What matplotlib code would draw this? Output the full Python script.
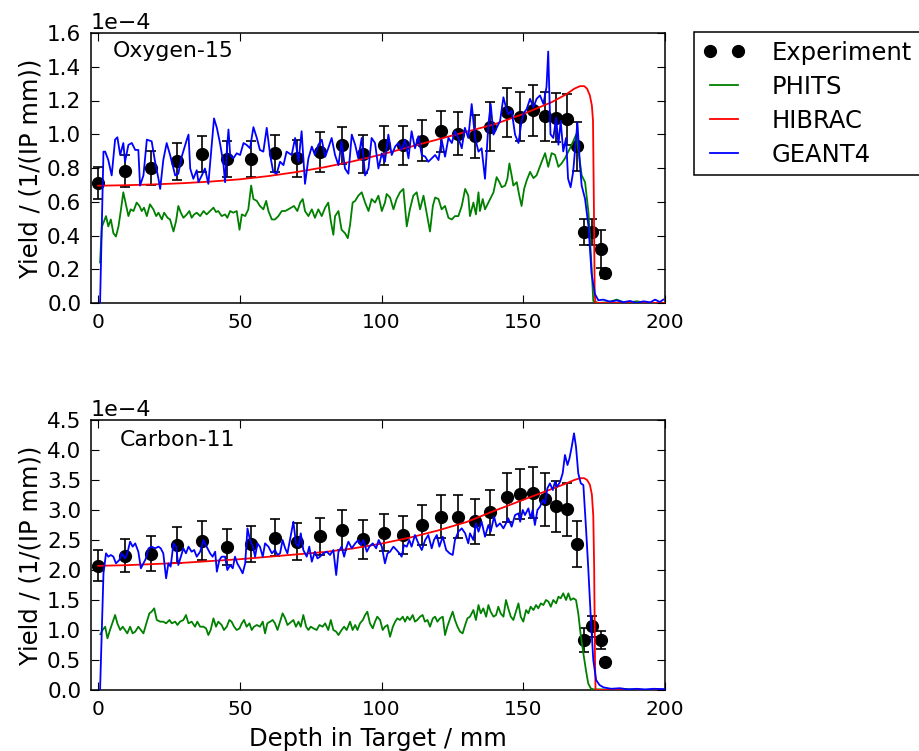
import numpy as np
import matplotlib
matplotlib.use("Agg")
import matplotlib.pyplot as plt
from matplotlib.ticker import MultipleLocator

SCALE = 1e-4

# ---------------- Experiment (shared depths) ----------------
exp_depth = [0.1, 9.5, 18.7, 27.8, 36.8, 45.4, 54.0, 62.4, 70.1, 78.3, 85.9, 93.6,
             100.9, 107.7, 114.1, 120.8, 127.1, 132.9, 138.3, 144.4, 148.9, 153.3,
             157.7, 161.5, 165.6, 169.0, 171.3, 174.4, 177.5, 179.0]
exp_o15 = [0.713, 0.781, 0.801, 0.841, 0.882, 0.853, 0.853, 0.888, 0.858, 0.894,
           0.934, 0.882, 0.934, 0.934, 0.962, 1.018, 1.002, 0.988, 1.044, 1.13,
           1.104, 1.142, 1.106, 1.098, 1.088, 0.93, 0.42, 0.42, 0.32, 0.176]
exp_o15_err = [0.095, 0.095, 0.10, 0.11, 0.105, 0.107, 0.107, 0.11, 0.11, 0.12,
               0.11, 0.112, 0.117, 0.115, 0.12, 0.122, 0.127, 0.128, 0.145, 0.145,
               0.145, 0.15, 0.145, 0.145, 0.15, 0.145, 0.075, 0.075, 0.11, 0.025]
exp_c11 = [2.07, 2.24, 2.27, 2.42, 2.49, 2.39, 2.44, 2.54, 2.47, 2.56, 2.67, 2.51,
           2.62, 2.58, 2.75, 2.89, 2.89, 2.81, 2.96, 3.21, 3.27, 3.29, 3.18, 3.06,
           3.01, 2.43, 0.84, 1.06, 0.84, 0.47]
exp_c11_err = [0.26, 0.28, 0.29, 0.30, 0.32, 0.30, 0.30, 0.31, 0.31, 0.31, 0.33,
               0.32, 0.31, 0.32, 0.33, 0.36, 0.36, 0.37, 0.38, 0.41, 0.42, 0.43,
               0.44, 0.43, 0.44, 0.38, 0.20, 0.18, 0.15, 0.05]

# ---------------- HIBRAC ----------------
hib_o15_x = [0, 10, 20, 30, 40, 50, 60, 70, 80, 90, 100, 110, 120, 130, 140, 150,
             160, 165, 168, 170, 171.5, 172.5, 173.5, 174.2, 174.6, 174.9, 175.2,
             175.5, 200]
hib_o15_y = [0.695, 0.698, 0.703, 0.71, 0.72, 0.733, 0.752, 0.776, 0.805, 0.84,
             0.88, 0.925, 0.97, 1.015, 1.06, 1.12, 1.19, 1.235, 1.27, 1.285, 1.285,
             1.27, 1.23, 1.17, 1.08, 0.6, 0.05, 0.0, 0.0]
hib_c11_x = [0, 10, 20, 30, 40, 50, 60, 70, 80, 90, 100, 110, 120, 130, 140, 150,
             160, 165, 168, 170, 171.5, 172.5, 173.5, 174.2, 174.7, 175.0, 175.3,
             175.5, 200]
hib_c11_y = [2.07, 2.08, 2.10, 2.12, 2.15, 2.18, 2.22, 2.26, 2.30, 2.36, 2.44, 2.54,
             2.66, 2.80, 2.99, 3.17, 3.35, 3.44, 3.50, 3.53, 3.53, 3.50, 3.42, 3.26,
             2.9, 2.06, 0.5, 0.0, 0.0]

# ---------------- GEANT4, Oxygen-15 ----------------
g4_o15_x = [0.7, 1.9, 2.5, 3.6, 4.8, 6.0, 6.8, 7.8, 8.9, 9.5, 10.7, 11.9, 13.1, 14.2,
            14.8, 16.0, 17.2, 18.9, 20.1, 21.3, 21.9, 23.0, 24.2, 25.4, 27.2, 28.3,
            29.5, 31.3, 31.9, 32.5, 33.6, 34.8, 35.4, 36.6, 37.7, 38.9, 40.1, 40.9,
            41.9, 43.0, 44.2, 44.8, 45.4, 46.0, 46.6, 47.7, 48.9, 50.1, 51.3, 52.4,
            53.6, 54.8, 56.0, 57.1, 58.3, 59.5, 60.7, 61.8, 63.0, 64.2, 65.4, 66.5,
            68.3, 69.5, 70.7, 71.8, 73.0, 74.2, 75.4, 76.5, 77.7, 78.9, 80.1, 81.2,
            82.4, 83.6, 84.8, 85.9, 87.1, 88.3, 89.5, 90.7, 91.8, 93.0, 94.2, 95.4,
            96.5, 97.7, 98.9, 100.1, 101.2, 102.4, 103.6, 104.8, 105.9, 107.1, 108.3,
            109.5, 110.6, 111.8, 113.0, 114.2, 115.4, 116.5, 117.7, 118.9, 120.1,
            121.2, 122.4, 123.6, 124.8, 125.9, 127.1, 128.3, 129.4, 130.6, 131.8,
            133.0, 134.2, 135.3, 136.5, 137.7, 138.5, 139.5, 140.6, 141.8, 143.0,
            143.9, 144.7, 145.9, 147.1, 148.3, 149.4, 150.3, 151.2, 152.4, 153.6,
            154.7, 155.9, 157.1, 158.2, 158.8, 159.6, 160.6, 161.6, 162.4, 163.2,
            164.1, 165.1, 165.8, 166.7, 167.6, 169.1, 170.0, 170.6, 171.8, 173.0,
            174.1, 175.3, 176.5, 178.2, 180.6, 183.0, 185.3, 187.7, 190.0, 192.4,
            194.8, 196.5, 198.2, 199.4]
g4_o15_y = [0.0, 0.897, 0.897, 0.847, 0.756, 0.968, 0.982, 0.877, 0.948, 0.837,
            0.937, 0.948, 0.907, 0.907, 0.696, 0.756, 0.968, 0.958, 0.837, 0.736,
            0.676, 0.847, 0.948, 0.877, 0.756, 0.766, 0.867, 0.968, 0.998, 0.797,
            0.736, 0.787, 0.716, 0.756, 0.797, 0.706, 0.937, 1.094, 1.038, 0.948,
            0.827, 0.716, 0.897, 1.028, 0.877, 0.857, 0.887, 0.877, 0.948, 0.937,
            0.917, 1.042, 0.978, 0.907, 0.897, 1.038, 0.877, 0.776, 0.766, 0.837,
            0.817, 0.897, 0.877, 0.978, 0.837, 1.018, 0.706, 0.857, 0.927, 0.877,
            0.937, 0.968, 0.867, 0.917, 0.978, 0.877, 0.817, 0.958, 0.797, 0.766,
            0.998, 0.937, 0.857, 0.978, 0.756, 0.797, 0.978, 0.948, 0.797, 0.887,
            0.837, 0.998, 0.877, 0.927, 0.948, 0.907, 0.968, 0.857, 1.018, 0.917,
            0.988, 0.877, 0.867, 0.837, 0.857, 0.877, 0.847, 0.968, 0.867, 0.978,
            0.948, 1.018, 0.978, 0.917, 1.038, 0.978, 1.179, 0.978, 0.897, 0.917,
            0.736, 1.058, 1.179, 0.998, 1.038, 1.078, 1.219, 1.159, 1.119, 1.139,
            0.998, 0.948, 1.078, 1.129, 1.149, 1.21, 1.16, 1.21, 1.23, 1.18, 1.28,
            1.49, 1.00, 0.978, 1.099, 0.938, 1.079, 0.898, 0.978, 0.737, 0.686,
            0.777, 1.069, 0.817, 0.696, 0.616, 0.455, 0.173, 0.052, 0.016, 0.02,
            0.008, 0.015, 0.005, 0.012, 0.0, 0.01, 0.004, 0.02, 0.006, 0.02]

# ---------------- PHITS, Oxygen-15 ----------------
ph_o15_x = [0.7, 1.3, 2.1, 2.8, 3.6, 4.5, 5.4, 6.3, 7.2, 8.0, 8.9, 9.8, 10.7, 11.5,
            12.5, 13.6, 14.6, 15.4, 16.2, 17.2, 18.3, 19.5, 20.5, 21.3, 22.5, 23.3,
            24.5, 25.4, 26.6, 27.5, 28.3, 29.2, 30.1, 31.3, 32.2, 33.0, 33.9, 34.8,
            36.0, 37.2, 38.3, 39.5, 40.7, 41.6, 42.4, 43.6, 44.8, 45.6, 46.6, 47.7,
            48.9, 49.9, 50.7, 51.9, 53.0, 54.0, 54.8, 56.0, 57.1, 58.3, 59.3, 60.1,
            61.3, 62.4, 63.6, 64.8, 66.0, 67.1, 69.1, 70.3, 71.3, 72.2, 73.0, 74.2,
            75.4, 76.5, 77.7, 78.9, 80.1, 81.2, 82.1, 83.0, 83.6, 84.8, 85.9, 87.1,
            88.1, 88.9, 89.8, 90.7, 91.8, 93.0, 94.2, 95.4, 96.5, 97.7, 98.9, 100.1,
            101.2, 101.8, 103.0, 104.2, 105.3, 106.5, 107.7, 108.9, 110.0, 111.2,
            112.4, 113.6, 114.8, 116.0, 117.1, 118.1, 118.9, 120.1, 121.2, 122.4,
            123.6, 124.8, 125.9, 127.1, 128.3, 129.5, 130.6, 131.2, 132.4, 133.3,
            134.2, 134.7, 135.7, 136.5, 137.1, 138.3, 139.5, 140.6, 141.6, 142.4,
            143.6, 144.4, 145.1, 145.9, 146.5, 147.7, 148.6, 149.4, 150.3, 151.2,
            152.4, 153.6, 154.7, 156.5, 157.7, 158.8, 160.0, 161.2, 162.4, 163.5,
            164.7, 165.9, 167.1, 168.7, 170.6, 171.8, 173.0, 173.9, 174.7, 176.5,
            180.0, 183.0, 186.0, 190.0, 194.0, 200.0]
ph_o15_y = [0.24, 0.45, 0.485, 0.515, 0.454, 0.495, 0.414, 0.394, 0.454, 0.545,
            0.656, 0.585, 0.515, 0.555, 0.545, 0.595, 0.575, 0.545, 0.565, 0.515,
            0.585, 0.555, 0.515, 0.535, 0.495, 0.535, 0.505, 0.495, 0.424, 0.485,
            0.575, 0.535, 0.505, 0.525, 0.545, 0.505, 0.525, 0.535, 0.515, 0.545,
            0.525, 0.545, 0.565, 0.539, 0.545, 0.515, 0.525, 0.505, 0.545, 0.535,
            0.545, 0.434, 0.525, 0.515, 0.555, 0.696, 0.616, 0.605, 0.575, 0.555,
            0.605, 0.545, 0.495, 0.495, 0.515, 0.545, 0.545, 0.555, 0.575, 0.545,
            0.595, 0.616, 0.545, 0.515, 0.555, 0.505, 0.555, 0.515, 0.565, 0.595,
            0.485, 0.404, 0.515, 0.545, 0.434, 0.414, 0.384, 0.464, 0.595, 0.605,
            0.636, 0.656, 0.595, 0.545, 0.616, 0.595, 0.636, 0.545, 0.595, 0.646,
            0.625, 0.555, 0.616, 0.656, 0.676, 0.454, 0.555, 0.636, 0.656, 0.555,
            0.636, 0.525, 0.424, 0.575, 0.625, 0.616, 0.555, 0.575, 0.505, 0.495,
            0.515, 0.515, 0.575, 0.676, 0.636, 0.515, 0.595, 0.525, 0.656, 0.545,
            0.616, 0.555, 0.575, 0.616, 0.656, 0.746, 0.716, 0.686, 0.696, 0.736,
            0.827, 0.756, 0.696, 0.716, 0.636, 0.575, 0.676, 0.726, 0.777, 0.74,
            0.757, 0.837, 0.888, 0.807, 0.888, 0.878, 0.807, 0.827, 0.857, 0.898,
            0.938, 1.0, 0.757, 0.716, 0.536, 0.274, 0.012, 0.0, 0.005, 0.02, 0.0,
            0.01, 0.0, 0.0]

# ---------------- GEANT4, Carbon-11 ----------------
g4_c11_x = [0.7, 1.9, 2.8, 3.6, 4.5, 5.4, 6.3, 7.5, 8.3, 9.5, 10.3, 11.3, 12.2, 13.1,
            14.2, 15.1, 16.0, 16.9, 17.8, 18.9, 20.1, 21.3, 22.1, 23.0, 24.0, 24.8,
            25.6, 26.6, 27.5, 28.3, 29.2, 30.1, 31.0, 31.9, 33.0, 33.9, 34.8, 36.0,
            37.2, 37.7, 38.6, 39.5, 40.4, 41.3, 41.9, 42.8, 43.6, 44.8, 45.6, 46.6,
            47.5, 48.3, 49.1, 50.1, 51.0, 51.9, 52.7, 53.6, 54.6, 55.4, 56.2, 57.1,
            58.1, 58.9, 60.1, 61.3, 62.4, 63.3, 64.2, 65.1, 66.0, 66.8, 68.9, 69.8,
            70.7, 71.5, 72.4, 73.6, 74.5, 75.4, 76.5, 77.4, 78.3, 79.5, 80.7, 81.8,
            83.0, 84.0, 84.8, 85.9, 86.8, 87.5, 88.3, 89.5, 90.7, 91.8, 92.7, 93.6,
            94.8, 95.7, 96.9, 98.1, 99.0, 100.1, 101.2, 102.1, 103.0, 104.2, 105.3,
            106.3, 107.1, 107.9, 108.9, 109.8, 110.6, 111.8, 113.0, 114.2, 115.4,
            116.5, 117.7, 118.5, 119.5, 120.4, 121.6, 122.8, 124.0, 125.1, 125.9,
            127.1, 128.3, 129.5, 130.6, 131.2, 132.4, 133.3, 134.2, 135.3, 136.5,
            137.7, 138.5, 139.7, 140.6, 141.8, 143.0, 143.9, 144.7, 145.9, 147.1,
            148.3, 148.9, 149.8, 150.6, 151.8, 152.6, 153.3, 154.1, 155.0, 155.9,
            156.9, 157.7, 158.5, 159.4, 160.4, 161.2, 162.0, 163.0, 163.9, 164.7,
            165.6, 166.3, 167.1, 167.9, 168.6, 169.4, 170.3, 171.2, 172.1, 172.9,
            173.8, 174.7, 175.7, 176.9, 178.3, 181.0, 184.0, 187.0, 190.0, 193.0,
            196.0, 200.0]
g4_c11_y = [0.0, 1.944, 2.278, 2.222, 2.25, 2.222, 2.111, 2.167, 2.278, 2.194,
            2.278, 2.472, 2.389, 2.444, 2.305, 2.028, 2.111, 2.194, 2.361, 2.389,
            2.361, 2.389, 2.361, 2.278, 1.861, 2.111, 2.056, 2.444, 2.389, 2.083,
            2.222, 2.361, 2.278, 2.389, 2.305, 2.333, 2.222, 2.305, 2.5, 2.444,
            2.361, 2.278, 2.222, 2.305, 1.972, 2.167, 2.222, 2.222, 2.0, 2.083,
            2.028, 2.222, 2.111, 2.028, 1.944, 2.111, 2.694, 2.5, 2.389, 2.222,
            2.444, 2.389, 2.222, 2.444, 2.389, 2.278, 2.333, 2.25, 2.278, 2.5,
            2.361, 2.278, 2.805, 2.444, 2.389, 2.611, 2.333, 2.222, 2.389, 2.139,
            2.305, 2.194, 2.222, 2.278, 2.305, 2.25, 2.333, 1.916, 2.305, 2.389,
            2.222, 2.361, 2.472, 2.361, 2.444, 2.5, 2.416, 2.5, 2.305, 2.389,
            2.444, 2.361, 2.5, 2.389, 2.111, 2.278, 2.305, 2.389, 2.333, 2.278,
            2.222, 2.416, 2.389, 2.5, 2.389, 2.583, 2.444, 2.333, 2.5, 2.583,
            2.361, 2.5, 2.583, 2.389, 2.555, 2.333, 2.278, 2.25, 2.5, 2.639,
            2.694, 2.611, 2.444, 2.611, 2.5, 2.778, 2.639, 2.805, 2.555, 2.75,
            2.639, 2.889, 2.722, 2.778, 2.694, 2.778, 2.861, 2.722, 2.916, 2.944,
            2.805, 3.0, 2.916, 3.027, 2.861, 3.0, 2.75, 3.0, 3.055, 3.167, 3.111,
            3.361, 3.444, 3.333, 3.472, 3.389, 3.472, 3.611, 3.917, 3.75, 3.861,
            4.055, 4.278, 4.055, 3.611, 3.444, 3.416, 2.722, 2.056, 1.222, 0.5,
            0.167, 0.083, 0.044, 0.02, 0.03, 0.01, 0.02, 0.01, 0.02, 0.015]

# ---------------- PHITS, Carbon-11 ----------------
ph_c11_x = [0.8, 1.6, 2.5, 3.3, 4.2, 5.2, 6.0, 6.8, 7.8, 8.7, 9.5, 10.3, 11.3, 12.2,
            13.1, 14.2, 15.1, 16.0, 17.2, 18.1, 18.9, 19.8, 20.7, 21.9, 23.0, 24.0,
            25.2, 26.0, 27.2, 28.0, 28.9, 30.1, 31.0, 31.9, 33.0, 34.2, 35.0, 36.0,
            37.2, 38.1, 38.9, 39.7, 40.7, 41.6, 42.4, 43.6, 44.4, 45.4, 46.3, 47.1,
            48.0, 48.9, 49.9, 50.7, 51.5, 52.4, 53.4, 54.2, 55.0, 56.0, 57.1, 58.1,
            58.9, 59.7, 60.7, 61.6, 62.4, 63.3, 64.2, 65.1, 66.0, 66.8, 68.9, 69.8,
            70.7, 71.5, 72.4, 73.4, 74.2, 75.0, 76.0, 77.1, 78.1, 79.2, 80.1, 81.2,
            82.1, 83.0, 84.0, 84.8, 85.9, 86.8, 87.7, 88.9, 89.8, 90.7, 91.5, 92.4,
            93.4, 94.2, 95.0, 95.9, 96.9, 97.7, 98.5, 99.5, 100.4, 101.2, 102.1,
            103.0, 104.0, 104.8, 105.6, 106.5, 107.5, 108.3, 109.1, 110.0, 111.0,
            111.8, 112.6, 113.6, 114.5, 115.3, 116.2, 117.1, 118.1, 118.9, 119.7,
            120.6, 121.6, 122.4, 123.2, 124.2, 125.1, 125.9, 126.8, 127.7, 128.6,
            129.5, 130.3, 131.2, 132.4, 133.3, 134.2, 135.0, 135.9, 136.9, 137.7,
            138.5, 139.5, 140.4, 141.2, 142.0, 143.0, 143.9, 144.7, 145.6, 146.5,
            147.4, 148.3, 149.1, 150.0, 151.0, 151.8, 152.6, 153.6, 154.5, 155.3,
            156.2, 157.1, 158.0, 158.9, 159.7, 160.6, 161.6, 162.4, 163.2, 164.1,
            165.1, 165.9, 166.7, 167.7, 168.6, 169.4, 170.2, 171.2, 172.1, 172.9,
            173.8, 174.7, 178.0, 182.0, 185.0, 190.0, 195.0, 200.0]
ph_c11_y = [0.93, 1.0, 1.055, 0.861, 1.0, 1.139, 1.25, 1.111, 1.0, 1.055, 1.0, 0.944,
            1.055, 0.944, 0.972, 1.055, 1.0, 0.944, 1.139, 1.278, 1.305, 1.361,
            1.167, 1.139, 1.139, 1.111, 1.167, 1.111, 1.139, 1.083, 1.139, 1.167,
            1.25, 1.111, 1.139, 1.055, 1.139, 1.055, 1.055, 1.027, 0.916, 1.0,
            1.194, 1.055, 1.139, 1.083, 1.0, 1.055, 1.167, 1.139, 1.055, 1.0, 1.027,
            1.111, 1.167, 1.055, 1.111, 1.0, 1.055, 1.083, 1.055, 1.139, 0.944,
            1.111, 1.139, 1.167, 1.111, 1.0, 1.139, 1.278, 1.194, 1.083, 1.167,
            1.055, 1.139, 1.055, 1.25, 1.055, 1.0, 1.055, 1.027, 1.0, 1.083, 1.055,
            1.111, 1.0, 1.167, 1.0, 0.972, 0.916, 1.0, 1.055, 1.0, 1.139, 1.0,
            1.083, 1.0, 1.111, 1.167, 1.25, 1.305, 1.111, 1.027, 1.139, 1.222,
            1.167, 1.0, 1.055, 1.083, 0.888, 1.055, 1.139, 1.194, 1.167, 1.222,
            1.139, 1.222, 1.167, 1.25, 1.139, 1.167, 1.222, 1.25, 1.139, 1.167,
            1.055, 1.194, 1.222, 1.139, 1.194, 1.222, 0.916, 1.055, 1.194, 1.305,
            1.167, 1.055, 0.972, 0.944, 1.083, 1.194, 1.222, 1.333, 1.167, 1.416,
            1.278, 1.361, 1.222, 1.416, 1.305, 1.222, 1.25, 1.388, 1.278, 1.222,
            1.5, 1.361, 1.222, 1.167, 1.305, 1.444, 1.222, 1.139, 1.333, 1.278,
            1.388, 1.333, 1.416, 1.361, 1.444, 1.416, 1.5, 1.472, 1.388, 1.5,
            1.444, 1.555, 1.528, 1.611, 1.5, 1.611, 1.5, 1.528, 1.5, 1.278, 0.944,
            0.611, 0.333, 0.111, 0.028, 0.011, 0.01, 0.0, 0.02, 0.005, 0.0, 0.0]

# ---------------- styling ----------------
plt.rcParams['font.family'] = ['DejaVu Sans']
plt.rcParams['xtick.direction'] = 'in'
plt.rcParams['ytick.direction'] = 'in'
plt.rcParams['xtick.top'] = True
plt.rcParams['ytick.right'] = True
plt.rcParams['xtick.major.size'] = 6
plt.rcParams['ytick.major.size'] = 6
plt.rcParams['xtick.major.pad'] = 7
plt.rcParams['ytick.major.pad'] = 7
plt.rcParams['axes.linewidth'] = 1.1
plt.rcParams['axes.formatter.useoffset'] = False

XTICK_FS = 14.5
YTICK_FS = 15.5
LABEL_FS = 17.5
NAME_FS = 15.8
LW = 1.3

fig = plt.figure(figsize=(9.2, 7.51), dpi=100)
ax1 = fig.add_axes([91 / 920, 1 - 303 / 751, 574 / 920, 270 / 751])
ax2 = fig.add_axes([91 / 920, 1 - 690 / 751, 574 / 920, 270 / 751])

GREEN = (0, 0.5, 0)
C_RED = (1, 0, 0)
C_BLUE = (0, 0, 1)


def draw(ax, ey, eerr, phx, phy, hx, hy, gx, gy, ymax, ystep, name, name_x, name_y):
    s = SCALE
    ax.errorbar(exp_depth, np.array(ey) * s, yerr=np.array(eerr) * s, fmt='none',
                ecolor='k', elinewidth=1.2, capsize=3.5, capthick=1.2, zorder=2)
    ax.plot(exp_depth, np.array(ey) * s, 'o', color='k', markersize=8.5,
            label='Experiment', zorder=2)
    ax.plot(phx, np.array(phy) * s, '-', color=GREEN, lw=LW, label='PHITS', zorder=3)
    ax.plot(hx, np.array(hy) * s, '-', color=C_RED, lw=LW, label='HIBRAC', zorder=3)
    ax.plot(gx, np.array(gy) * s, '-', color=C_BLUE, lw=LW, label='GEANT4', zorder=3)
    ax.set_xlim(-2.5, 200)
    ax.set_ylim(0, ymax * s)
    ax.xaxis.set_major_locator(MultipleLocator(50))
    ax.yaxis.set_major_locator(MultipleLocator(ystep * s))
    ax.ticklabel_format(axis='y', style='sci', scilimits=(0, 0), useMathText=False)
    ax.tick_params(axis='x', labelsize=XTICK_FS)
    ax.tick_params(axis='y', labelsize=YTICK_FS)
    ax.yaxis.get_offset_text().set_fontsize(16)
    ax.set_ylabel('Yield / (1/(IP mm))', fontsize=LABEL_FS, labelpad=3)
    ax.text(name_x, name_y, name, transform=ax.transAxes, fontsize=NAME_FS,
            ha='left', va='center')


draw(ax1, exp_o15, exp_o15_err, ph_o15_x, ph_o15_y, hib_o15_x, hib_o15_y,
     g4_o15_x, g4_o15_y, 1.6, 0.2, 'Oxygen-15', 0.038, 0.935)
draw(ax2, exp_c11, exp_c11_err, ph_c11_x, ph_c11_y, hib_c11_x, hib_c11_y,
     g4_c11_x, g4_c11_y, 4.5, 0.5, 'Carbon-11', 0.05, 0.925)

ax2.set_xlabel('Depth in Target / mm', fontsize=LABEL_FS, labelpad=6)

leg = ax1.legend(loc='upper left', bbox_to_anchor=(1.0505, 1.004), borderaxespad=0,
                 numpoints=2, fontsize=LABEL_FS, fancybox=False, framealpha=1,
                 handlelength=1.75, handletextpad=1.1, labelspacing=0.41,
                 borderpad=0.36)
leg.get_frame().set_edgecolor('k')
leg.get_frame().set_linewidth(1.1)

fig.savefig('out.png', dpi=100)
